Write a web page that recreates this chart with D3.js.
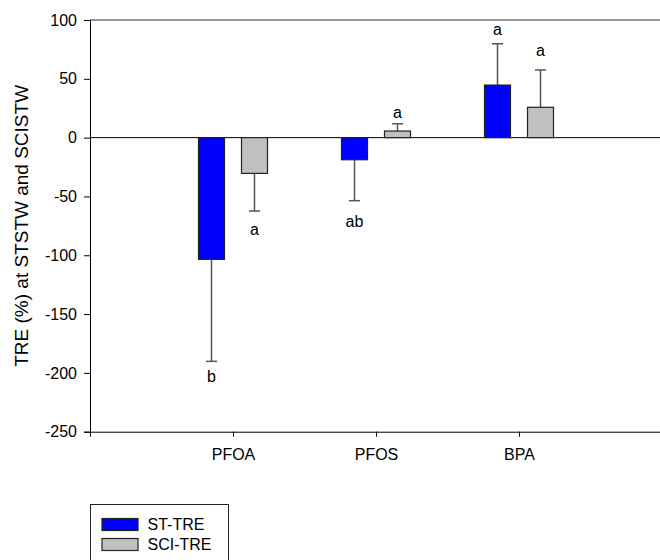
<!DOCTYPE html>
<html>
<head>
<meta charset="utf-8">
<script src="https://cdn.jsdelivr.net/npm/d3@7"></script>
<style>
  body { margin: 0; background: #fff; }
  svg { display: block; font-family: "Liberation Sans", Arial, sans-serif; }
</style>
</head>
<body>
<svg id="chart" width="660" height="560"></svg>
<script>
// Data
const compounds = ["PFOA", "PFOS", "BPA"];
const seriesNames = ["ST-TRE", "SCI-TRE"];
const seriesColors = ["#0000ff", "#c0c0c0"];

// mean TRE (%) and end of error bar (mean +/- SE)
const stMean = [-103.5, -18.8, 44.7];
const stErrEnd = [-190.2, -53.6, 79.8];
const sciMean = [-30.4, 5.6, 25.8];
const sciErrEnd = [-62.4, 11.8, 57.5];

// significance letters and where they sit (data units)
const stLetters = ["b", "ab", "a"];
const stLetterAt = [-203, -71, 92];
const sciLetters = ["a", "a", "a"];
const sciLetterAt = [-78, 21, 74];

const yTicks = [100, 50, 0, -50, -100, -150, -200, -250];

// Layout
const svg = d3.select("#chart");
const plotL = 90, plotR = 662, plotT = 20, plotB = 431.7;

const x = d3.scaleLinear().domain([0, 4]).range([plotL, plotR]);
const y = d3.scaleLinear().domain([-250, 100]).range([plotB, plotT]);

const barW = 26;
const offsets = [-21.5, 21.5];

// Series table built from the arrays
const series = [
  { mean: stMean, err: stErrEnd, letters: stLetters, letterAt: stLetterAt },
  { mean: sciMean, err: sciErrEnd, letters: sciLetters, letterAt: sciLetterAt }
];

// Frame: top line
svg.append("line")
  .attr("x1", plotL).attr("x2", plotR)
  .attr("y1", y(100)).attr("y2", y(100))
  .attr("stroke", "#333").attr("stroke-width", 1);

// Zero line
svg.append("line")
  .attr("x1", plotL).attr("x2", plotR)
  .attr("y1", y(0)).attr("y2", y(0))
  .attr("stroke", "#000").attr("stroke-width", 1);

// Y axis (plain hyphen for negatives, like the original)
const yAxis = svg.append("g")
  .attr("transform", `translate(${plotL},0)`)
  .call(d3.axisLeft(y).tickValues(yTicks).tickFormat(d => String(d))
    .tickSize(6).tickPadding(7));
yAxis.select(".domain").attr("stroke", "#000");
yAxis.selectAll(".tick line").attr("stroke", "#000");
yAxis.selectAll("text").style("font-size", "16px").attr("fill", "#000");

// X axis
const xAxis = svg.append("g")
  .attr("transform", `translate(0,${plotB})`)
  .call(d3.axisBottom(x).tickValues([1, 2, 3])
    .tickFormat(d => compounds[d - 1]).tickSize(5).tickPadding(12));
xAxis.select(".domain").attr("stroke", "#000");
xAxis.selectAll(".tick line").attr("stroke", "#000");
xAxis.selectAll("text").style("font-size", "16px").attr("fill", "#000");

// Y axis title
svg.append("text")
  .attr("transform", `translate(28,${(plotT + plotB) / 2}) rotate(-90)`)
  .attr("text-anchor", "middle")
  .style("font-size", "19px")
  .text("TRE (%) at STSTW and SCISTW");

// Bars, error bars, letters
series.forEach((s, si) => {
  const g = svg.append("g");
  const cx = i => x(i + 1) + offsets[si];

  // error bar stems and caps (drawn first, bar covers the inner part)
  g.selectAll(".stem")
    .data(compounds)
    .join("line")
    .attr("class", "stem")
    .attr("x1", (d, i) => cx(i)).attr("x2", (d, i) => cx(i))
    .attr("y1", (d, i) => y(s.mean[i])).attr("y2", (d, i) => y(s.err[i]))
    .attr("stroke", "#555").attr("stroke-width", 1.5);

  g.selectAll(".cap")
    .data(compounds)
    .join("line")
    .attr("class", "cap")
    .attr("x1", (d, i) => cx(i) - 5.5).attr("x2", (d, i) => cx(i) + 5.5)
    .attr("y1", (d, i) => y(s.err[i])).attr("y2", (d, i) => y(s.err[i]))
    .attr("stroke", "#555").attr("stroke-width", 1.5);

  g.selectAll(".bar")
    .data(compounds)
    .join("rect")
    .attr("class", "bar")
    .attr("x", (d, i) => cx(i) - barW / 2)
    .attr("width", barW)
    .attr("y", (d, i) => Math.min(y(0), y(s.mean[i])))
    .attr("height", (d, i) => Math.abs(y(s.mean[i]) - y(0)))
    .attr("fill", seriesColors[si])
    .attr("stroke", "#222").attr("stroke-width", 1.2);

  g.selectAll(".letter")
    .data(compounds)
    .join("text")
    .attr("class", "letter")
    .attr("x", (d, i) => cx(i))
    .attr("y", (d, i) => y(s.letterAt[i]))
    .attr("text-anchor", "middle")
    .attr("dominant-baseline", "central")
    .style("font-size", "16px")
    .text((d, i) => s.letters[i]);
});

// Legend
const legend = svg.append("g");
legend.append("rect")
  .attr("x", 90.5).attr("y", 504.5)
  .attr("width", 138).attr("height", 70)
  .attr("fill", "#fff").attr("stroke", "#222").attr("stroke-width", 1);

seriesNames.forEach((name, i) => {
  legend.append("rect")
    .attr("x", 102).attr("y", 518.5 + i * 20)
    .attr("width", 36).attr("height", 12)
    .attr("fill", seriesColors[i])
    .attr("stroke", "#222").attr("stroke-width", 1.2);
  legend.append("text")
    .attr("x", 147.5).attr("y", 524.5 + i * 20)
    .attr("dominant-baseline", "central")
    .style("font-size", "16px")
    .text(name);
});
</script>
</body>
</html>
